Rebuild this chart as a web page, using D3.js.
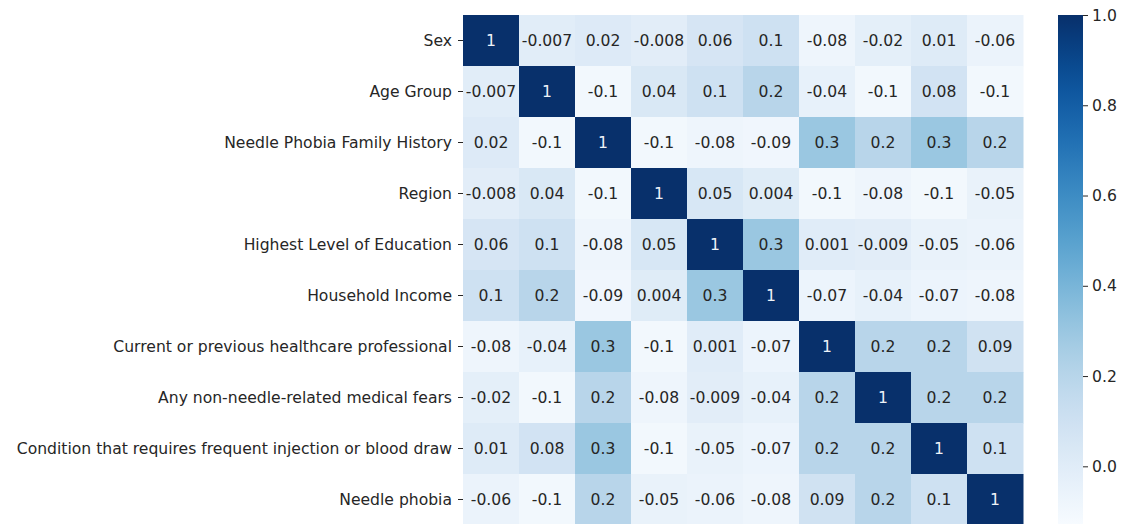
<!DOCTYPE html>
<html>
<head>
<meta charset="utf-8">
<script src="https://cdn.jsdelivr.net/npm/d3@7"></script>
<style>
	html, body { margin: 0; padding: 0; background: #fff; }
	svg { display: block; font-family: "DejaVu Sans", sans-serif; }
</style>
</head>
<body>
<svg id="chart" width="1133" height="524"></svg>
<script>
// variable names, same order for rows and columns
var categories = [
	'Sex',
	'Age Group',
	'Needle Phobia Family History',
	'Region',
	'Highest Level of Education',
	'Household Income',
	'Current or previous healthcare professional',
	'Any non-needle-related medical fears',
	'Condition that requires frequent injection or blood draw',
	'Needle phobia'
];

// one array per row of the correlation matrix
var rowSex          = [1, -0.007, 0.02, -0.008, 0.06, 0.1, -0.08, -0.02, 0.01, -0.06];
var rowAgeGroup     = [-0.007, 1, -0.1, 0.04, 0.1, 0.2, -0.04, -0.1, 0.08, -0.1];
var rowFamily       = [0.02, -0.1, 1, -0.1, -0.08, -0.09, 0.3, 0.2, 0.3, 0.2];
var rowRegion       = [-0.008, 0.04, -0.1, 1, 0.05, 0.004, -0.1, -0.08, -0.1, -0.05];
var rowEducation    = [0.06, 0.1, -0.08, 0.05, 1, 0.3, 0.001, -0.009, -0.05, -0.06];
var rowIncome       = [0.1, 0.2, -0.09, 0.004, 0.3, 1, -0.07, -0.04, -0.07, -0.08];
var rowHealthcare   = [-0.08, -0.04, 0.3, -0.1, 0.001, -0.07, 1, 0.2, 0.2, 0.09];
var rowMedicalFears = [-0.02, -0.1, 0.2, -0.08, -0.009, -0.04, 0.2, 1, 0.2, 0.2];
var rowCondition    = [0.01, 0.08, 0.3, -0.1, -0.05, -0.07, 0.2, 0.2, 1, 0.1];
var rowNeedle       = [-0.06, -0.1, 0.2, -0.05, -0.06, -0.08, 0.09, 0.2, 0.1, 1];

var matrix = [rowSex, rowAgeGroup, rowFamily, rowRegion, rowEducation,
	rowIncome, rowHealthcare, rowMedicalFears, rowCondition, rowNeedle];

var colorDomain = [-0.13, 1];
var colorTicks = [0.0, 0.2, 0.4, 0.6, 0.8, 1.0];

(function() {
	'use strict';

	var margin = { top: 15, left: 463 },
		cellW = 56,
		cellH = 51,
		fontSize = 15.6,
		textColor = '#262626';

	var gridW = cellW * categories.length,
		gridH = cellH * categories.length;

	var svg = d3.select('#chart');

	// flatten matrix into cells
	var cells = [];
	matrix.forEach(function(row, i) {
		row.forEach(function(v, j) {
			cells.push({ row: categories[i], col: categories[j], value: v });
		});
	});

	var xScale = d3.scaleBand().domain(categories).range([margin.left, margin.left + gridW]);
	var yScale = d3.scaleBand().domain(categories).range([margin.top, margin.top + gridH]);
	var color = d3.scaleSequential(d3.interpolateBlues).domain(colorDomain);

	// annotations like python's '.1g', hyphen minus
	var fmt = d3.formatLocale({ decimal: '.', thousands: ',', grouping: [3], currency: ['', ''], minus: '-' }).format('.1g');

	svg.append('g')
		.selectAll('rect')
		.data(cells)
		.enter()
		.append('rect')
		.attr('x', function(d) { return xScale(d.col); })
		.attr('y', function(d) { return yScale(d.row); })
		.attr('width', xScale.bandwidth() + 0.5)
		.attr('height', yScale.bandwidth() + 0.5)
		.attr('fill', function(d) { return color(d.value); });

	svg.append('g')
		.selectAll('text')
		.data(cells)
		.enter()
		.append('text')
		.attr('x', function(d) { return xScale(d.col) + xScale.bandwidth() / 2; })
		.attr('y', function(d) { return yScale(d.row) + yScale.bandwidth() / 2; })
		.attr('dy', '0.35em')
		.attr('text-anchor', 'middle')
		.attr('font-size', fontSize)
		.attr('fill', function(d) {
			var c = d3.rgb(color(d.value));
			var lum = (0.2126 * c.r + 0.7152 * c.g + 0.0722 * c.b) / 255;
			return lum > 0.408 ? textColor : '#eef3f8';
		})
		.text(function(d) { return fmt(d.value); });

	// y axis with tick labels on the left
	var yAxis = d3.axisLeft(yScale).tickSize(5).tickPadding(6);
	var yG = svg.append('g')
		.attr('transform', 'translate(' + margin.left + ',0)')
		.call(yAxis);
	yG.select('.domain').remove();
	yG.selectAll('line').attr('stroke', textColor);
	yG.selectAll('text')
		.attr('fill', textColor)
		.attr('font-size', fontSize)
		.attr('font-family', '"DejaVu Sans", sans-serif');

	// colour bar
	var cbX = 1058,
		cbW = 25,
		cbScale = d3.scaleLinear().domain(colorDomain).range([margin.top + gridH, margin.top]);

	var grad = svg.append('defs').append('linearGradient')
		.attr('id', 'cbGrad')
		.attr('x1', 0).attr('y1', 1).attr('x2', 0).attr('y2', 0);
	d3.range(0, 1.0001, 0.05).forEach(function(t) {
		grad.append('stop')
			.attr('offset', t)
			.attr('stop-color', color(colorDomain[0] + t * (colorDomain[1] - colorDomain[0])));
	});

	svg.append('rect')
		.attr('x', cbX)
		.attr('y', margin.top)
		.attr('width', cbW)
		.attr('height', gridH)
		.attr('fill', 'url(#cbGrad)');

	var cbAxis = d3.axisRight(cbScale).tickValues(colorTicks).tickFormat(d3.format('.1f')).tickSize(5).tickPadding(4);
	var cbG = svg.append('g')
		.attr('transform', 'translate(' + (cbX + cbW) + ',0)')
		.call(cbAxis);
	cbG.select('.domain').remove();
	cbG.selectAll('line').attr('stroke', textColor);
	cbG.selectAll('text')
		.attr('fill', textColor)
		.attr('font-size', fontSize)
		.attr('font-family', '"DejaVu Sans", sans-serif');
})();
</script>
</body>
</html>
